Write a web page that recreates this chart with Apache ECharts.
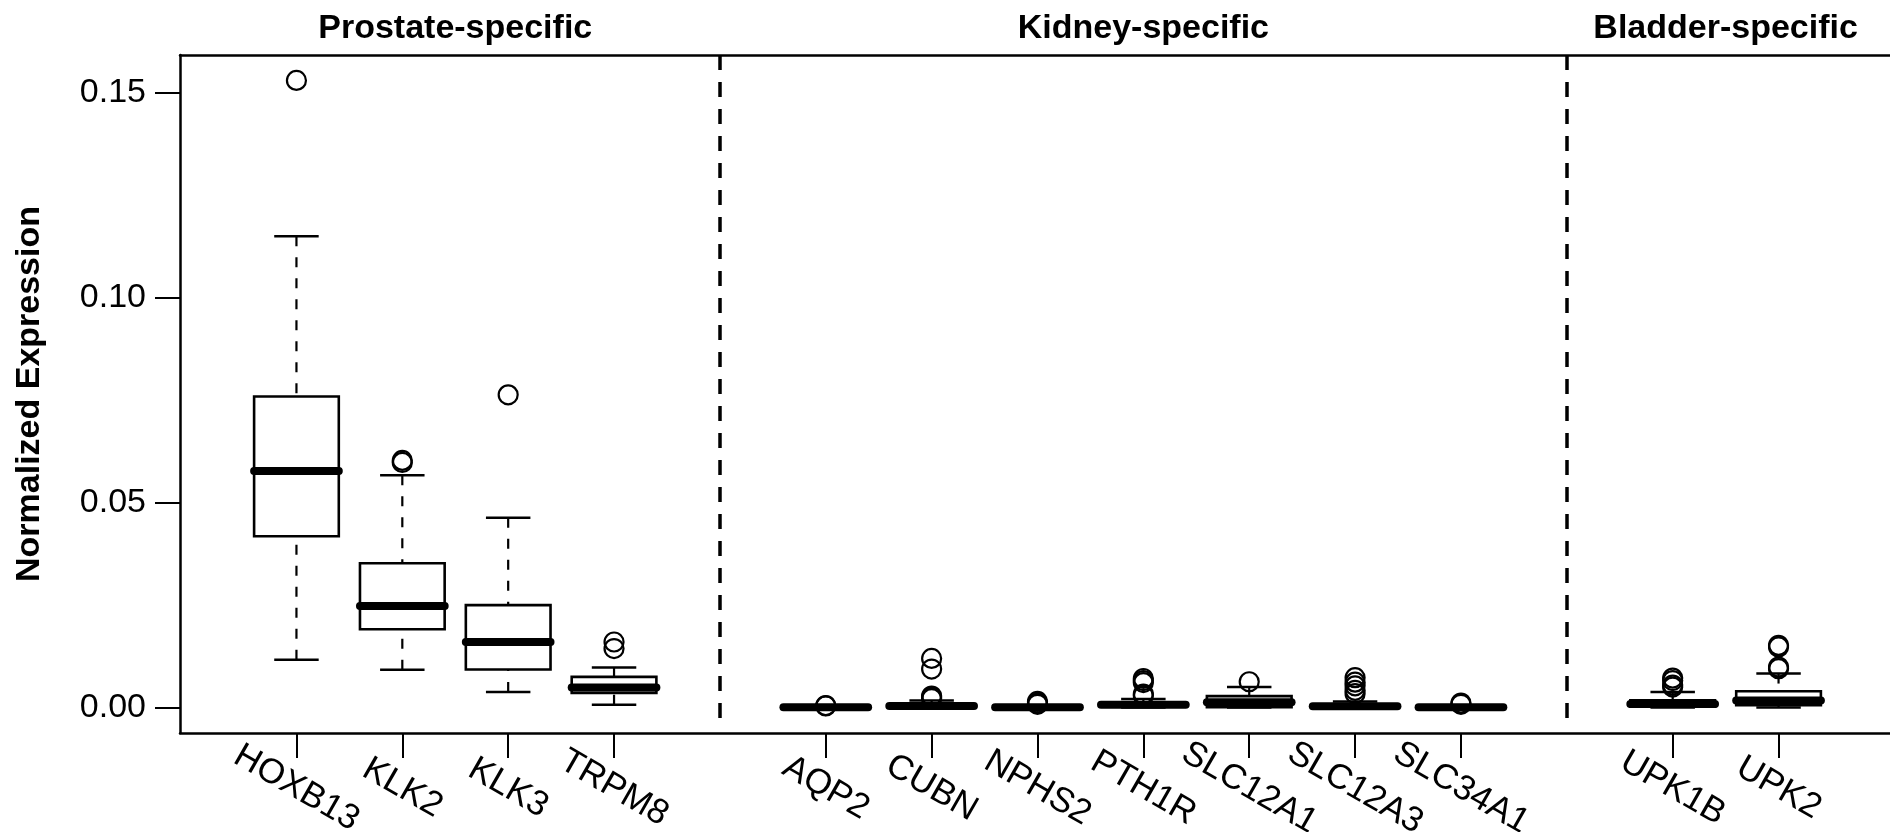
<!DOCTYPE html>
<html>
<head>
<meta charset="utf-8">
<script src="https://cdn.jsdelivr.net/npm/echarts@6/dist/echarts.min.js"></script>
<style>
  html, body { margin: 0; padding: 0; background: #fff; }
  #chart { width: 1890px; height: 832px; }
</style>
</head>
<body>
<div id="chart"></div>
<script>
// ---- data ----
const categories = ['HOXB13','KLK2','KLK3','TRPM8','AQP2','CUBN','NPHS2','PTH1R','SLC12A1','SLC12A3','SLC34A1','UPK1B','UPK2'];
const positions  = [1, 2, 3, 4, 6, 7, 8, 9, 10, 11, 12, 14, 15];
const groupNames   = ['Prostate-specific', 'Kidney-specific', 'Bladder-specific'];
const groupCenters = [2.5, 9, 14.5];
const separators   = [5, 13];
const yTicks = [0, 0.05, 0.10, 0.15];

const lowerWhisker = [0.0117, 0.0092, 0.0038, 0.0007, 0.0000, 0.0000, 0.0000, 0.0000, 0.0000, 0.0000, 0.0000, 0.0000, 0.0000];
const q1           = [0.0418, 0.0191, 0.0093, 0.0036, 0.0000, 0.0001, 0.0000, 0.0002, 0.0001, 0.0001, 0.0000, 0.0002, 0.0006];
const median       = [0.0577, 0.0248, 0.0160, 0.0049, 0.0001, 0.0004, 0.0001, 0.0007, 0.0013, 0.0003, 0.0001, 0.0009, 0.0017];
const q3           = [0.0759, 0.0352, 0.0250, 0.0075, 0.0002, 0.0008, 0.0002, 0.0013, 0.0028, 0.0006, 0.0002, 0.0018, 0.0040];
const upperWhisker = [0.1150, 0.0567, 0.0463, 0.0098, 0.0003, 0.0017, 0.0004, 0.0021, 0.0050, 0.0015, 0.0004, 0.0038, 0.0083];
const outliers = [
  [0.1530],
  [0.0598, 0.0603],
  [0.0763],
  [0.0144, 0.0160],
  [0.0005, 0.0004],
  [0.0120, 0.0094, 0.0028, 0.0025, 0.0022],
  [0.0015, 0.0011, 0.0008],
  [0.0071, 0.0066, 0.0061, 0.0033, 0.0029],
  [0.0063],
  [0.0073, 0.0062, 0.0053, 0.0042, 0.0034],
  [0.0011, 0.0008],
  [0.0072, 0.0066, 0.0055, 0.0050],
  [0.0152, 0.0148, 0.0099, 0.0095]
];

// ---- settings ----
const X_MIN = -0.1, X_MAX = 16.1;
const Y_MIN = -0.0062, Y_MAX = 0.1592;
const SEP_BOTTOM = -0.0038;
const BOX_W = 0.8, CAP_W = 0.42;
const FONT = "'Liberation Sans', Arial, Helvetica, sans-serif";

const boxData = positions.map((p, i) => [p, lowerWhisker[i], q1[i], median[i], q3[i], upperWhisker[i]]);
const outlierData = [];
positions.forEach((p, i) => outliers[i].forEach(v => outlierData.push([p, v])));

const chart = echarts.init(document.getElementById('chart'), null, { renderer: 'canvas' });

function renderBox(params, api) {
  const x = api.value(0);
  const pLw = api.coord([x, api.value(1)]);
  const pQ1 = api.coord([x, api.value(2)]);
  const pMd = api.coord([x, api.value(3)]);
  const pQ3 = api.coord([x, api.value(4)]);
  const pUw = api.coord([x, api.value(5)]);
  const halfBox = api.size([BOX_W, 0])[0] / 2;
  const halfCap = api.size([CAP_W, 0])[0] / 2;
  const cx = pMd[0];
  const dashStyle = { stroke: '#000', lineWidth: 2.2, lineDash: [10, 11], lineCap: 'butt' };
  const solid = { stroke: '#000', lineWidth: 2.5 };
  return {
    type: 'group',
    children: [
      { type: 'line', shape: { x1: cx, y1: pUw[1], x2: cx, y2: pQ3[1] }, style: dashStyle },
      { type: 'line', shape: { x1: cx, y1: pLw[1], x2: cx, y2: pQ1[1] }, style: dashStyle },
      { type: 'line', shape: { x1: cx - halfCap, y1: pUw[1], x2: cx + halfCap, y2: pUw[1] }, style: solid },
      { type: 'line', shape: { x1: cx - halfCap, y1: pLw[1], x2: cx + halfCap, y2: pLw[1] }, style: solid },
      { type: 'rect', shape: { x: cx - halfBox, y: pQ3[1], width: 2 * halfBox, height: pQ1[1] - pQ3[1] },
        style: { fill: '#fff', stroke: '#000', lineWidth: 2.6 } },
      { type: 'line', shape: { x1: cx - halfBox, y1: pMd[1], x2: cx + halfBox, y2: pMd[1] },
        style: { stroke: '#000', lineWidth: 8, lineCap: 'round' } }
    ]
  };
}

const option = {
  backgroundColor: '#fff',
  animation: false,
  grid: { left: 180, right: -5, top: 55, bottom: 99, containLabel: false, outerBoundsMode: 'none' },
  xAxis: [
    {
      type: 'value', position: 'bottom', min: X_MIN, max: X_MAX,
      splitLine: { show: false },
      axisLine: { show: true, onZero: false, lineStyle: { color: '#000', width: 2.5 } },
      axisTick: { show: true, customValues: positions, length: 25, lineStyle: { color: '#000', width: 2 } },
      axisLabel: {
        customValues: positions,
        formatter: v => categories[positions.indexOf(v)] || '',
        rotate: -30, align: 'center', verticalAlign: 'middle', margin: 55,
        fontSize: 35, color: '#000', fontFamily: FONT
      }
    },
    {
      type: 'value', position: 'top', min: X_MIN, max: X_MAX,
      splitLine: { show: false },
      axisLine: { show: true, onZero: false, lineStyle: { color: '#000', width: 2.5 } },
      axisTick: { show: false },
      axisLabel: {
        customValues: groupCenters,
        formatter: v => groupNames[groupCenters.indexOf(v)] || '',
        margin: 9, fontSize: 34, fontWeight: 'bold', color: '#000', fontFamily: FONT
      }
    }
  ],
  yAxis: {
    type: 'value', min: Y_MIN, max: Y_MAX,
    splitLine: { show: false },
    axisLine: { show: true, onZero: false, lineStyle: { color: '#000', width: 2.5 } },
    axisTick: { show: true, customValues: yTicks, length: 25, lineStyle: { color: '#000', width: 2 } },
    axisLabel: {
      customValues: yTicks,
      formatter: v => v.toFixed(2),
      margin: 34, fontSize: 34, color: '#000', fontFamily: FONT
    },
    name: 'Normalized Expression',
    nameLocation: 'middle', nameRotate: 90, nameGap: 133,
    nameTextStyle: { fontSize: 34, fontWeight: 'bold', color: '#000', fontFamily: FONT }
  },
  series: [
    {
      type: 'custom',
      xAxisIndex: 0, yAxisIndex: 0,
      renderItem: renderBox,
      data: boxData,
      encode: { x: 0, y: [1, 2, 3, 4, 5] },
      z: 2,
      silent: true,
      markLine: {
        silent: true,
        symbol: 'none',
        label: { show: false },
        lineStyle: { color: '#000', width: 3.5, type: [15, 12] },
        data: separators.map(s => [{ coord: [s, Y_MAX] }, { coord: [s, SEP_BOTTOM] }])
      }
    },
    {
      type: 'scatter',
      xAxisIndex: 0, yAxisIndex: 0,
      data: outlierData,
      symbol: 'circle',
      symbolSize: 19,
      itemStyle: { color: 'rgba(0,0,0,0)', borderColor: '#000', borderWidth: 2.2, opacity: 1 },
      z: 3,
      silent: true
    }
  ]
};

chart.setOption(option);
</script>
</body>
</html>
